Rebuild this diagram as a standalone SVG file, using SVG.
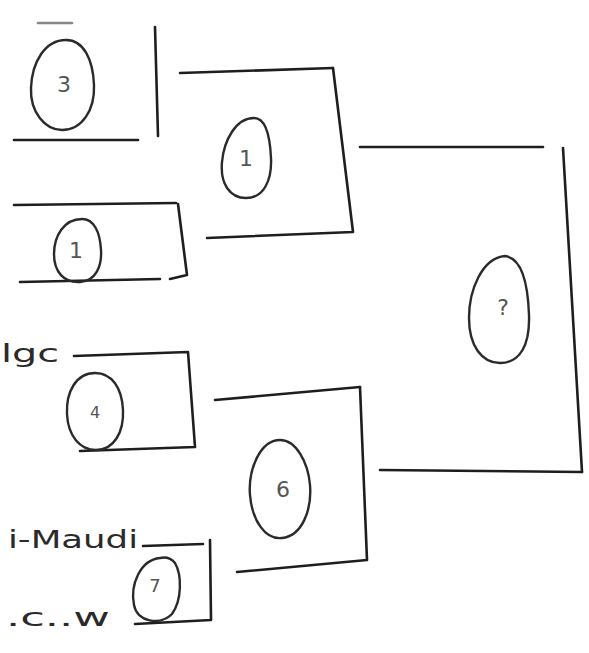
<svg xmlns="http://www.w3.org/2000/svg" width="589" height="653" viewBox="0 0 589 653">
<style>
.ln{fill:none;stroke:#1e1e1e;stroke-width:2.6;stroke-linecap:round;stroke-linejoin:round}
.eg{fill:none;stroke:#2a2a2a;stroke-width:2.4;stroke-linecap:round}
.lb{font-family:"DejaVu Sans",sans-serif;fill:#555;font-size:22px;text-anchor:middle}
.tx{font-family:"DejaVu Sans",sans-serif;fill:#2a2a2a;font-size:24px}
</style>
<rect width="589" height="653" fill="#fff"/>
<g id="connectors">
<path class="ln" d="M180 73 L333 68"/>
<path class="ln" d="M215 400 L360 387"/>
<path class="ln" d="M360 147 L543 147"/>
<path class="ln" d="M380 470 L582 472"/>
</g>
<g id="node-a">
<path class="ln" d="M38 23 L72 23" style="stroke:#888"/>
<path class="ln" d="M155 27 L158 136"/>
<path class="ln" d="M14 140 L138 140"/>
<path class="eg" d="M66 40 C45 40 32 62 31 88 C30 112 45 130 62 130 C82 130 95 110 94 85 C93 60 84 40 66 40"/>
<text class="lb" x="64" y="92">3</text>
</g>
<g id="node-b">
<path class="ln" d="M14 205 L176 203"/>
<path class="ln" d="M178 204 L187 275 L170 279"/>
<path class="ln" d="M20 282 L160 279"/>
<path class="eg" d="M82 219 C64 219 54 236 54 254 C54 272 64 283 80 282 C96 281 102 266 101 250 C100 232 94 219 82 219"/>
<text class="lb" x="76" y="258">1</text>
</g>
<g id="node-c">
<path class="ln" d="M74 356 L188 352 L195 447 L80 451"/>
<path class="eg" d="M95 373 C76 373 66 392 67 414 C68 436 80 450 96 450 C114 450 124 432 123 410 C122 388 112 373 95 373"/>
<text class="lb" x="95" y="418" style="font-size:16px">4</text>
</g>
<g id="node-d">
<path class="ln" d="M143 546 L203 544"/>
<path class="ln" d="M210 540 L211 620 L135 624"/>
<path class="eg" d="M160 558 C140 560 130 585 134 605 C137 622 160 626 172 614 C182 600 182 575 175 563 C170 557 164 557 160 558"/>
<text class="lb" x="155" y="592" style="font-size:18px">7</text>
</g>
<g id="node-e">
<path class="ln" d="M333 68 L353 232 L207 238"/>
<path class="eg" d="M254 118 C236 118 224 140 222 162 C220 184 230 198 246 198 C264 198 272 180 271 158 C270 136 266 118 254 118"/>
<text class="lb" x="246" y="166">1</text>
</g>
<g id="node-f">
<path class="ln" d="M360 387 L367 560 L237 572"/>
<path class="eg" d="M280 440 C260 440 248 470 250 495 C252 520 265 540 282 538 C302 536 312 510 310 485 C308 462 296 440 280 440"/>
<text class="lb" x="283" y="497">6</text>
</g>
<g id="node-g">
<path class="ln" d="M563 148 L582 472"/>
<path class="eg" d="M505 256 C482 258 469 290 469 318 C469 346 482 363 500 363 C520 363 530 345 529 315 C528 285 522 258 505 256"/>
<text class="lb" x="503" y="315">?</text>
</g>
<g id="labels">
<text class="tx" x="1" y="362" textLength="58" lengthAdjust="spacingAndGlyphs">lgc</text>
<text class="tx" x="8" y="548" textLength="130" lengthAdjust="spacingAndGlyphs">i-Maudi</text>
<text class="tx" x="6" y="626" textLength="104" lengthAdjust="spacingAndGlyphs">.c..w</text>
</g>
</svg>
